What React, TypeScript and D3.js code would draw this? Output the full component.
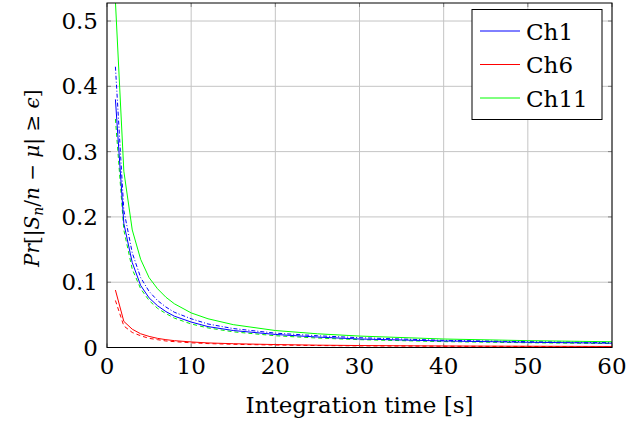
import React from "react";
import * as d3 from "d3";

const xTicks = [0, 10, 20, 30, 40, 50, 60];
const yTicks = [0, 0.1, 0.2, 0.3, 0.4, 0.5];
const yTickLabels = ["0", "0.1", "0.2", "0.3", "0.4", "0.5"];

const times = [1, 2, 3, 4, 5, 6, 7, 8, 10, 12, 15, 20, 25, 30, 40, 50, 60];

const ch1Solid = [0.38, 0.19, 0.13, 0.095, 0.076, 0.064, 0.055, 0.048, 0.039, 0.032, 0.026, 0.02, 0.016, 0.013, 0.01, 0.008, 0.0066];
const ch1DashDot = [0.43, 0.21, 0.145, 0.107, 0.086, 0.072, 0.062, 0.054, 0.044, 0.036, 0.029, 0.022, 0.018, 0.015, 0.011, 0.009, 0.0075];
const ch6Solid = [0.088, 0.04, 0.028, 0.021, 0.017, 0.014, 0.012, 0.0105, 0.0085, 0.007, 0.0058, 0.0045, 0.0036, 0.003, 0.0023, 0.0019, 0.0016];
const ch6Dashed = [0.072, 0.033, 0.023, 0.018, 0.014, 0.012, 0.01, 0.009, 0.0072, 0.006, 0.0049, 0.0038, 0.003, 0.0025, 0.0019, 0.0016, 0.0013];
const ch11Solid = [0.53, 0.27, 0.18, 0.135, 0.107, 0.09, 0.077, 0.067, 0.053, 0.044, 0.035, 0.026, 0.021, 0.0175, 0.013, 0.0105, 0.0088];
const ch11Dashed = [0.35, 0.18, 0.12, 0.09, 0.072, 0.06, 0.052, 0.045, 0.036, 0.03, 0.024, 0.018, 0.0145, 0.012, 0.009, 0.0073, 0.006];

const legendNames = ["Ch1", "Ch6", "Ch11"];
const legendColors = ["#0000ff", "#ff0000", "#00ff00"];

const series = [
  { values: ch11Dashed, color: "#00ee00", dash: "4,3" },
  { values: ch1DashDot, color: "#0000ff", dash: "4,2,1,2" },
  { values: ch6Dashed, color: "#ff0000", dash: "4,3" },
  { values: ch1Solid, color: "#0000ff", dash: null },
  { values: ch6Solid, color: "#ff0000", dash: null },
  { values: ch11Solid, color: "#00ff00", dash: null },
];

const W = 628, H = 427;
const L = 107, R = 612, T = 3, B = 347.5;
const FONT = "DejaVu Serif, serif";
const fs: React.CSSProperties = { fontFamily: FONT, fontSize: 23 };
const fsLabel: React.CSSProperties = { fontFamily: FONT, fontSize: 20 };

export default function App() {
  const x = d3.scaleLinear().domain([0, 60]).range([L, R]);
  const y = d3.scaleLinear().domain([0, 0.5276]).range([B, T]);
  const line = d3.line<number>().x((_, i) => x(times[i])).y((d) => y(d));

  return (
    <svg width={W} height={H} style={{ position: "absolute", left: 0, top: 0, background: "#fff" }}>
      <defs>
        <clipPath id="plot">
          <rect x={L} y={T} width={R - L} height={B - T} />
        </clipPath>
      </defs>
      <rect x={0} y={0} width={W} height={H} fill="#fff" />
      {xTicks.map((t) => (
        <line key={"gx" + t} x1={x(t)} x2={x(t)} y1={T} y2={B} stroke="#c4c4c4" strokeWidth={1} />
      ))}
      {yTicks.map((t) => (
        <line key={"gy" + t} x1={L} x2={R} y1={y(t)} y2={y(t)} stroke="#c4c4c4" strokeWidth={1} />
      ))}
      {xTicks.map((t) => (
        <g key={"tx" + t} stroke="#808080" strokeWidth={1}>
          <line x1={x(t)} x2={x(t)} y1={B} y2={B - 4} />
          <line x1={x(t)} x2={x(t)} y1={T} y2={T + 4} />
        </g>
      ))}
      {yTicks.map((t) => (
        <g key={"ty" + t} stroke="#808080" strokeWidth={1}>
          <line x1={L} x2={L + 4} y1={y(t)} y2={y(t)} />
          <line x1={R} x2={R - 4} y1={y(t)} y2={y(t)} />
        </g>
      ))}
      <g clipPath="url(#plot)">
        {series.map((s, i) => (
          <path
            key={i}
            d={line(s.values) || ""}
            fill="none"
            stroke={s.color}
            strokeWidth={1}
            strokeDasharray={s.dash || undefined}
          />
        ))}
      </g>
      <rect x={L} y={T} width={R - L} height={B - T} fill="none" stroke="#000" strokeWidth={1} />
      {xTicks.map((t) => (
        <text key={"lx" + t} x={x(t)} y={374} textAnchor="middle" style={fs}>
          {t}
        </text>
      ))}
      {yTicks.map((t, i) => (
        <text key={"ly" + t} x={98} y={y(t) + 8} textAnchor="end" style={fs}>
          {yTickLabels[i]}
        </text>
      ))}
      <text x={x(30)} y={413} textAnchor="middle" style={fs}>
        Integration time [s]
      </text>
      <text transform={`translate(39, ${(T + B) / 2 + 3}) rotate(-90)`} textAnchor="middle" style={fsLabel}>
        <tspan fontStyle="italic">Pr</tspan>
        <tspan>[|</tspan>
        <tspan fontStyle="italic">S</tspan>
        <tspan fontStyle="italic" fontSize={14} dy={4}>n</tspan>
        <tspan dy={-4}>/</tspan>
        <tspan fontStyle="italic">n</tspan>
        <tspan> − </tspan>
        <tspan fontStyle="italic">μ</tspan>
        <tspan>| ≥ </tspan>
        <tspan fontStyle="italic">ϵ</tspan>
        <tspan>]</tspan>
      </text>
      <rect x={472} y={9.5} width={130} height={110} fill="#fff" stroke="#000" strokeWidth={1} />
      {legendNames.map((n, i) => (
        <g key={n}>
          <line x1={480} x2={520} y1={31 + i * 33.5} y2={31 + i * 33.5} stroke={legendColors[i]} strokeWidth={1} />
          <text x={526} y={39.5 + i * 33.5} style={fs}>
            {n}
          </text>
        </g>
      ))}
    </svg>
  );
}
